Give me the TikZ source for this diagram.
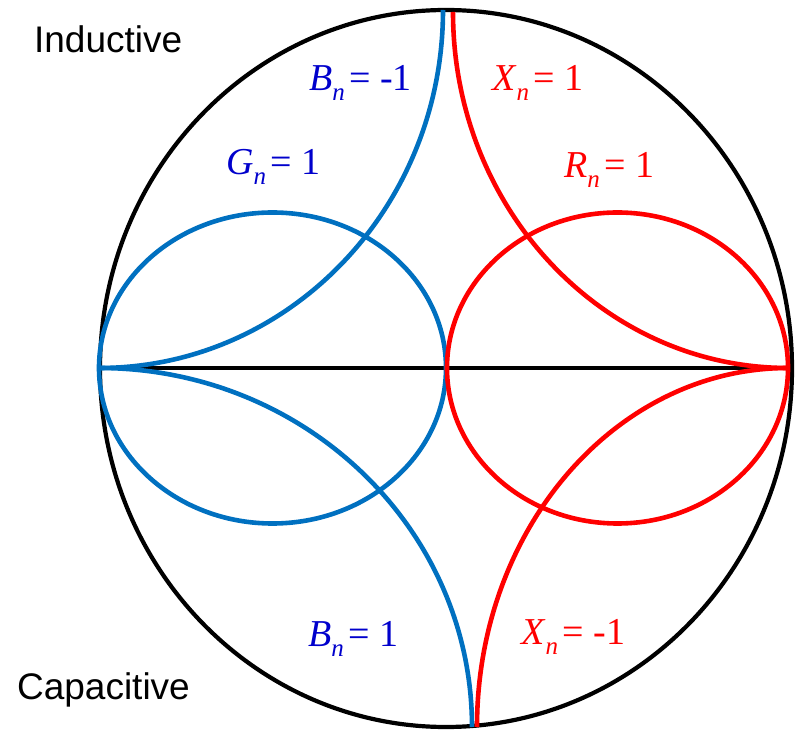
\documentclass[tikz,border=0pt]{standalone}
\usepackage{fontspec}
\setmainfont{Liberation Serif}
\newfontfamily\arialfont{Liberation Sans}
\definecolor{curveblue}{HTML}{0070C0}
\definecolor{textblue}{HTML}{0000CC}
\newcommand{\nlabel}[2]{\textit{#1}\raisebox{-0.24em}{\fontsize{25}{25}\selectfont\textit{n}}\hspace{0.12em}= #2}
\tikzset{
  lbl/.style={anchor=base west, inner sep=0pt, font=\fontsize{38}{40}\selectfont},
  side/.style={anchor=base west, inner sep=0pt, font=\arialfont\fontsize{37}{40}\selectfont},
  curve/.style={line width=4.6pt}
}
\begin{document}
\begin{tikzpicture}[x=1pt, y=1pt, line width=4.2pt]
  \useasboundingbox (0,0) rectangle (796,729);
  % chart outline and real axis
  \draw (446,360.5) ellipse[x radius=346pt, y radius=358.5pt];
  \draw (100,361) -- (792,361);
  % admittance side
  \draw[curve, curveblue] (272.5,361) ellipse[x radius=173.5pt, y radius=155.5pt];
  \draw[curve, curveblue] (99,361) arc[start angle=-90, end angle=0, x radius=344pt, y radius=358pt];
  \draw[curve, curveblue] (99,361) arc[start angle=90, end angle=0, x radius=373pt, y radius=359pt];
  % impedance side
  \draw[curve, red] (617.5,361) ellipse[x radius=170.5pt, y radius=155.5pt];
  \draw[curve, red] (788,361) arc[start angle=-90, end angle=-180, x radius=335pt, y radius=356pt];
  \draw[curve, red] (788,361) arc[start angle=90, end angle=180, x radius=311pt, y radius=359pt];
  % labels
  \node[side] (ind) at (32,676) {Inductive};
  \node[side] (cap) at (15,30) {Capacitive};
  \node[lbl, text=textblue] (bneg) at (307,638) {\nlabel{B}{-1}};
  \node[lbl, text=textblue] (gone) at (224,554) {\nlabel{G}{1}};
  \node[lbl, text=textblue] (bpos) at (306,82) {\nlabel{B}{1}};
  \node[lbl, text=red] (xpos) at (490,638) {\nlabel{X}{1}};
  \node[lbl, text=red] (rone) at (562,551) {\nlabel{R}{1}};
  \node[lbl, text=red] (xneg) at (519,84) {\nlabel{X}{-1}};
\end{tikzpicture}
\end{document}
